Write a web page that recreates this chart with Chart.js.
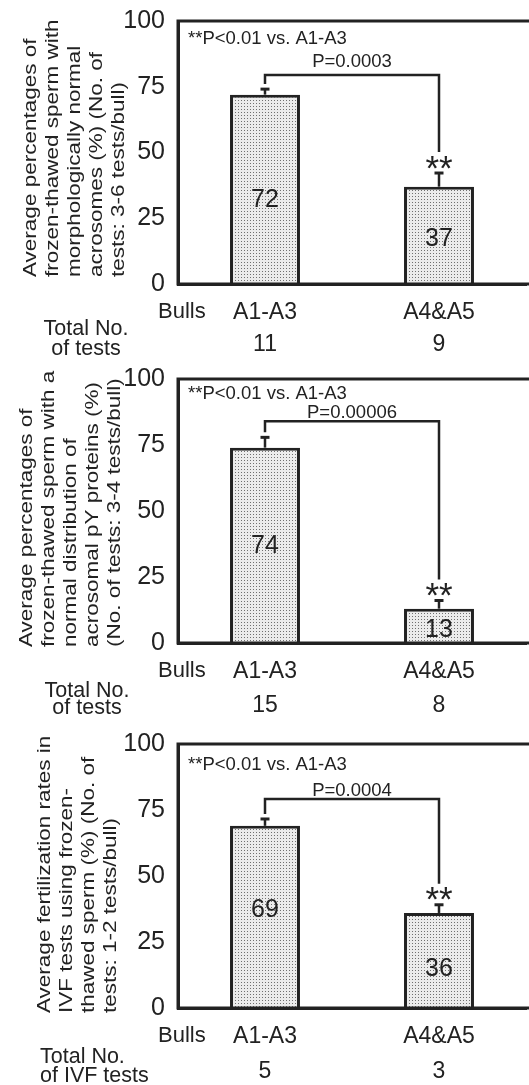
<!DOCTYPE html>
<html><head><meta charset="utf-8">
<script src="https://cdn.jsdelivr.net/npm/chart.js@4.4.0/dist/chart.umd.min.js"></script>
<style>
html,body{margin:0;padding:0;background:#fff;overflow:hidden;width:529px;height:1085px;}
.p{position:absolute;left:0;}
canvas{display:block;}
</style></head><body>
<div class="p" style="top:0"><canvas id="c1" width="560" height="360"></canvas></div>
<div class="p" style="top:360px"><canvas id="c2" width="560" height="360"></canvas></div>
<div class="p" style="top:720px"><canvas id="c3" width="560" height="365"></canvas></div>
<script>
// ---- data ----
const categories = ['A1-A3', 'A4&A5'];
const yTicks = [0, 25, 50, 75, 100];

const means1 = [72, 37];
const sem1 = [2.1, 5.2];
const tests1 = ['11', '9'];
const bracket1 = 79.5;
const pText1 = 'P=0.0003';
const title1 = ['Average percentages of', 'frozen-thawed sperm with', 'morphologically normal', 'acrosomes (%) (No. of', 'tests: 3-6 tests/bull)'];
const testsLabel1 = ['Total No.', 'of tests'];

const means2 = [74, 13];
const sem2 = [3.9, 3.1];
const tests2 = ['15', '8'];
const bracket2 = 84;
const pText2 = 'P=0.00006';
const title2 = ['Average percentages of', 'frozen-thawed sperm with a', 'normal distribution of', 'acrosomal pY proteins (%)', '(No. of tests: 3-4 tests/bull)'];
const testsLabel2 = ['Total No.', 'of tests'];

const means3 = [69, 36];
const sem3 = [2.6, 3.1];
const tests3 = ['5', '3'];
const bracket3 = 79.2;
const pText3 = 'P=0.0004';
const title3 = ['Average fertilization rates in', 'IVF tests using frozen-', 'thawed sperm (%) (No. of', 'tests: 1-2 tests/bull)'];
const testsLabel3 = ['Total No.', 'of IVF tests'];

const sigNote = '**P<0.01 vs. A1-A3';
const sigMark = '**';
const bullsLabel = 'Bulls';

// ---- styling / layout ----
const FONT = '"Liberation Sans", Arial, Helvetica, sans-serif';
const INK = '#222';

function makePattern() {
  const c = document.createElement('canvas');
  c.width = 3; c.height = 3;
  const g = c.getContext('2d');
  g.fillStyle = '#ececec'; g.fillRect(0, 0, 3, 3);
  g.fillStyle = '#707070'; g.fillRect(1, 1, 1, 1);
  return g.createPattern(c, 'repeat');
}

// layout per panel (pixel positions and label anchor levels)
const panels = [
  {id: 'c1', h: 360, top: 21, bottom: 284, means: means1, sem: sem1, tests: tests1, bracket: bracket1, p: pText1, pY: 60,
   labelAt: [32.8, 17.7],
   title: title1, titleStart: 277, titleLast: 124, noteY: 37, testsLabel: testsLabel1, tlAlign: 'center', tlX: 86, tlY: [335, 355], tickLH: 32},
  {id: 'c2', h: 360, top: 19, bottom: 283, means: means2, sem: sem2, tests: tests2, bracket: bracket2, p: pText2, pY: 51,
   labelAt: [37.6, 5.8],
   title: title2, titleStart: 287, titleLast: 120, noteY: 32.5, testsLabel: testsLabel2, tlAlign: 'center', tlX: 87, tlY: [336.5, 354], tickLH: 34},
  {id: 'c3', h: 365, top: 24, bottom: 288, means: means3, sem: sem3, tests: tests3, bracket: bracket3, p: pText3, pY: 69,
   labelAt: [37.8, 15.6],
   title: title3, titleStart: 293, titleLast: 116, noteY: 43.3, testsLabel: testsLabel3, tlAlign: 'left', tlX: 40, tlY: [342.5, 361.5], tickLH: 35}
];

function textMid(ctx, txt, x, y) {
  const m = ctx.measureText(txt);
  const a = m.actualBoundingBoxAscent, d = m.actualBoundingBoxDescent;
  ctx.textBaseline = 'alphabetic';
  ctx.fillText(txt, x, y + (a - d) / 2);
}

function makePlugin(P) {
  return {
    id: 'annot_' + P.id,
    afterDraw(chart) {
      const ctx = chart.ctx, a = chart.chartArea;
      const xs = chart.scales.x, ys = chart.scales.y;
      ctx.save();
      ctx.strokeStyle = INK; ctx.fillStyle = INK; ctx.lineCap = 'butt';
      // frame: top and bottom lines to edge
      ctx.lineWidth = 3;
      ctx.beginPath();
      ctx.moveTo(a.left - 1.5, a.top); ctx.lineTo(chart.width, a.top);
      ctx.moveTo(a.left - 1.5, a.bottom); ctx.lineTo(chart.width, a.bottom);
      ctx.moveTo(a.left, a.top - 1.5); ctx.lineTo(a.left, a.bottom + 1.5);
      ctx.stroke();

      const xc = [0, 1].map(i => xs.getPixelForValue(i));
      const errTop = P.means.map((m, i) => ys.getPixelForValue(m + P.sem[i]));
      // error bars
      P.means.forEach((m, i) => {
        const yb = ys.getPixelForValue(m);
        ctx.lineWidth = 2.5;
        ctx.beginPath(); ctx.moveTo(xc[i], yb); ctx.lineTo(xc[i], errTop[i]); ctx.stroke();
        ctx.lineWidth = 3;
        ctx.beginPath(); ctx.moveTo(xc[i] - 4.5, errTop[i]); ctx.lineTo(xc[i] + 4.5, errTop[i]); ctx.stroke();
        // value label inside bar
        ctx.font = '25px ' + FONT; ctx.textAlign = 'center';
        textMid(ctx, String(m), xc[i], ys.getPixelForValue(P.labelAt[i]));
      });
      // stars
      const starY = errTop[1] - 11;
      ctx.font = '35px ' + FONT; ctx.textAlign = 'center';
      textMid(ctx, sigMark, xc[1], starY);
      // bracket
      const yb = ys.getPixelForValue(P.bracket);
      ctx.lineWidth = 2.5;
      ctx.beginPath();
      ctx.moveTo(xc[0], errTop[0] - 5); ctx.lineTo(xc[0], yb); ctx.lineTo(xc[1], yb); ctx.lineTo(xc[1], starY - 10);
      ctx.stroke();
      // P text
      ctx.font = '18.5px ' + FONT; ctx.textAlign = 'center';
      textMid(ctx, P.p, (xc[0] + xc[1]) / 2, P.pY);
      // note
      ctx.textAlign = 'left';
      textMid(ctx, sigNote, a.left + 10, P.noteY);
      // Bulls
      ctx.font = '22px ' + FONT; ctx.textAlign = 'left';
      textMid(ctx, bullsLabel, 158, a.bottom + 26);
      // Total No. label
      ctx.font = '21.5px ' + FONT; ctx.textAlign = P.tlAlign; ctx.textBaseline = 'alphabetic';
      P.testsLabel.forEach((t, i) => ctx.fillText(t, P.tlX, P.tlY[i]));
      // rotated y title
      ctx.save();
      ctx.translate(0, P.titleStart);
      ctx.rotate(-Math.PI / 2);
      ctx.scale(1.25, 1);
      ctx.font = '18px ' + FONT; ctx.textAlign = 'left'; ctx.textBaseline = 'alphabetic';
      const n = P.title.length;
      P.title.forEach((l, i) => ctx.fillText(l, 0, P.titleLast - (n - 1 - i) * 22));
      ctx.restore();
      ctx.restore();
    }
  };
}

panels.forEach(P => {
  const cv = document.getElementById(P.id);
  const pattern = makePattern();
  new Chart(cv, {
    type: 'bar',
    data: {
      labels: categories.map((c, i) => [c, P.tests[i]]),
      datasets: [{
        data: P.means,
        backgroundColor: pattern,
        borderColor: INK,
        borderWidth: 3,
        borderSkipped: 'start',
        categoryPercentage: 1,
        barPercentage: 0.402
      }]
    },
    options: {
      responsive: false,
      animation: false,
      events: [],
      layout: {padding: {top: P.top, right: 34, left: 0, bottom: 0}},
      plugins: {legend: {display: false}, tooltip: {enabled: false}, title: {display: false}},
      scales: {
        x: {
          grid: {display: false, drawTicks: false},
          border: {display: true, color: INK, width: 3},
          ticks: {color: INK, padding: 29 - P.tickLH / 2, font: {family: FONT, size: 23, lineHeight: P.tickLH / 23}, maxRotation: 0, autoSkip: false},
          afterFit: s => { s.height = P.h - P.bottom; }
        },
        y: {
          min: 0, max: 100,
          grid: {display: false, drawTicks: false},
          border: {display: true, color: INK, width: 3},
          ticks: {color: INK, padding: 13, font: {family: FONT, size: 25, lineHeight: 0.3}},
          afterBuildTicks: s => { s.ticks = yTicks.map(v => ({value: v})); },
          afterFit: s => { s.width = 178; }
        }
      }
    },
    plugins: [makePlugin(P)]
  });
});
</script>
</body></html>
